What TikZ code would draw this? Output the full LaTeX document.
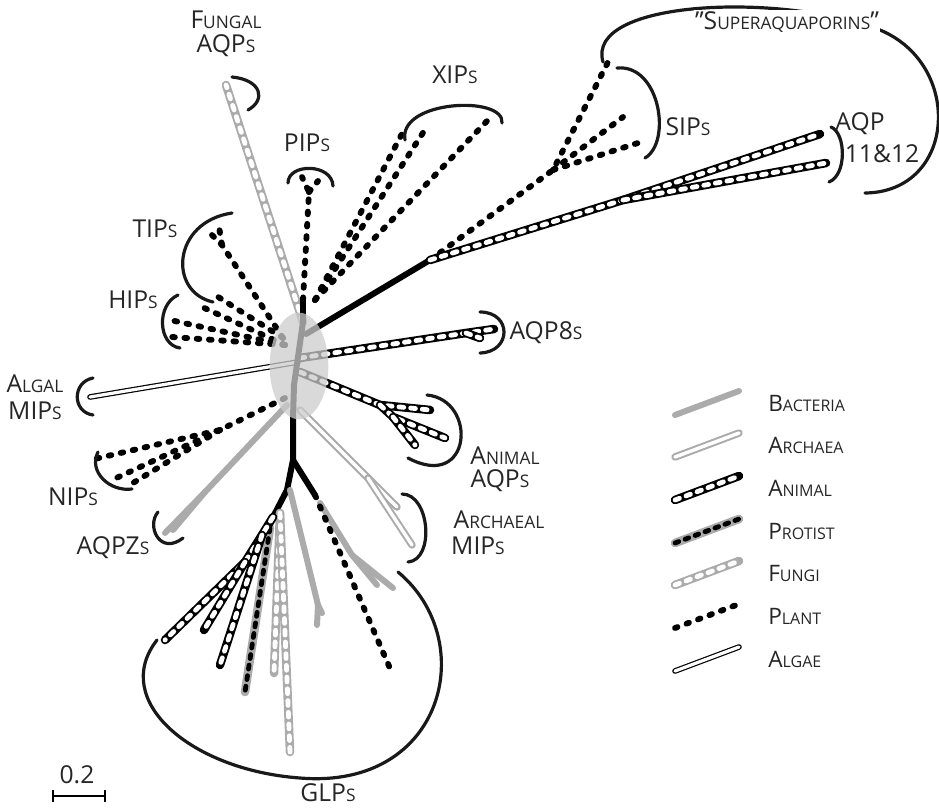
\documentclass[tikz,border=0pt]{standalone}
\usetikzlibrary{shapes.geometric}
\usepackage{fontspec}
\setmainfont{Open Sans}
\newcommand{\smc}[2]{#1{\fontsize{13}{13}\selectfont #2}}
\newcommand{\lsmc}[2]{#1{\fontsize{12}{12}\selectfont #2}}
\begin{document}
\begin{tikzpicture}[x=0.75pt,y=-0.75pt,
  bact/.style={draw=black!33,line width=4.5pt,line cap=round},
  arch/.style={draw=black!33,double=white,line width=1.5pt,double distance=2.6pt,line cap=round},
  anim/.style={draw=black,line width=6.4pt,line cap=round,
     postaction={draw=white,line width=3.6pt,line cap=round,dash pattern=on 3.6pt off 5.2pt}},
  prot/.style={draw=black!33,line width=6.4pt,line cap=round,
     postaction={draw=black,line width=3.6pt,line cap=round,dash pattern=on 3pt off 5pt}},
  fung/.style={draw=black!33,line width=6.4pt,line cap=round,
     postaction={draw=white,line width=3.6pt,line cap=round,dash pattern=on 3.6pt off 5.2pt}},
  plnt/.style={draw=black,line width=4.4pt,line cap=round,dash pattern=on 2pt off 7.2pt},
  alg/.style={draw=black,double=white,line width=0.9pt,double distance=2.4pt,line cap=round},
  solidb/.style={draw=black,line width=4.5pt,line cap=round},
  brk/.style={draw=black!90,line width=2.4pt,line cap=round},
  lab/.style={font=\fontsize{18.5}{20}\selectfont,text=black!85,inner sep=0pt},
  leg/.style={font=\fontsize{17}{18}\selectfont,text=black!85,inner sep=0pt,anchor=west}]
\useasboundingbox (0,0) rectangle (939,808);
% ---------------- core coordinates
\coordinate (top) at (303,322);
\coordinate (m1) at (299,350);
\coordinate (m2) at (294,385);
\coordinate (bot) at (293,418);
\coordinate (g1) at (293,460);
\coordinate (p0) at (303,300);
\coordinate (p1) at (309,192);
\coordinate (sj0) at (306,334);
\coordinate (sj) at (430,260);
\coordinate (sp) at (553,170);
\coordinate (aq) at (623,200);
% ---------------- GLP clade
\coordinate (gA) at (287,490);
\coordinate (gA2) at (273,517);
\coordinate (gB) at (262,535);
\coordinate (gR) at (315,495);
\draw[solidb] (g1) -- (gA) -- (gA2);
\draw[solidb] (g1) -- (gR);
\coordinate (glb0) at (290,490);
\coordinate (glb1) at (318,605);
\coordinate (glb1e) at (322,613);
\coordinate (glb2e) at (317,625);
\draw[bact] (glb0) -- (glb1) -- (glb2e);
\draw[bact] (glb1) -- (glb1e);
\coordinate (glr0) at (320,503);
\coordinate (glr1) at (352,555);
\coordinate (glr2) at (377,585);
\coordinate (glr3) at (393,588);
\draw[bact] (glr0) -- (glr1) -- (glr2);
\draw[bact] (glr1) -- (glr3);
\coordinate (glf0) at (280,513);
\coordinate (glf1e) at (274,673);
\coordinate (glf2e) at (290,752);
\draw[fung] (glf0) -- (glf1e);
\draw[fung] (glf0) -- (glf2e);
\coordinate (glpr) at (270,528);
\coordinate (glpre) at (245,692);
\draw[prot] (glpr) -- (glpre);
\coordinate (gla1) at (165,640);
\coordinate (gla2) at (204,630);
\coordinate (gla3) at (220,665);
\coordinate (gC) at (245,562);
\draw[anim] (gA2) -- (gB) -- (gC) -- (gla1);
\draw[anim] (gC) -- (gla2);
\draw[anim] (gB) -- (gla3);
\coordinate (glp) at (392,673);
\draw[plnt] (gR) -- (glp);
% archaeal
\coordinate (ar0) at (300,410);
\coordinate (ar01) at (368,478);
\coordinate (ar1) at (397,507);
\coordinate (ar2) at (412,545);
\draw[arch] (ar0) -- (ar01) -- (ar1);
\draw[arch] (ar01) -- (ar2);
% AQPZ
\coordinate (zq0) at (287,405);
\coordinate (zq1) at (205,492);
\coordinate (zq2) at (165,533);
\coordinate (zq3) at (173,530);
\draw[bact] (zq0) -- (zq1) -- (zq2);
\draw[bact] (zq1) -- (zq3);
% NIPs
\coordinate (ni0) at (285,398);
\coordinate (ni1) at (220,430);
\coordinate (ni2) at (90,460);
\coordinate (ni3) at (112,480);
\coordinate (ni4) at (128,486);
\draw[plnt] (ni0) -- (ni1) -- (ni2);
\draw[plnt] (ni1) -- (ni3);
\draw[plnt] (ni1) -- (ni4);
% Algal
\coordinate (al0) at (298,362);
\coordinate (al1) at (90,397);
\draw[alg] (al0) -- (al1);
% HIPs / TIPs
\coordinate (hi0) at (285,345);
\coordinate (hi1) at (170,320);
\coordinate (hi2) at (172,337);
\coordinate (hi3) at (200,306);
\draw[plnt] (hi0) -- (hi1);
\draw[plnt] (hi0) -- (hi2);
\draw[plnt] (hi0) -- (hi3);
\coordinate (ti0) at (283,338);
\coordinate (ti1) at (222,245);
\coordinate (ti2) at (210,233);
\coordinate (ti3) at (219,227);
\coordinate (ti4) at (215,295);
\draw[plnt] (ti0) -- (ti1) -- (ti2);
\draw[plnt] (ti1) -- (ti3);
\draw[plnt] (ti0) -- (ti4);
% Fungal AQPs
\coordinate (fu1) at (226,85);
\draw[fung] (top) -- (fu1);
% PIPs
\draw[solidb] (top) -- (p0);
\coordinate (pi1) at (302,177);
\coordinate (pi2) at (312,182);
\coordinate (pi3) at (318,181);
\draw[plnt] (p0) -- (p1) -- (pi1);
\draw[plnt] (p1) -- (pi2);
\draw[plnt] (p1) -- (pi3);
% XIPs
\coordinate (xi0) at (315,300);
\coordinate (xi1) at (405,128);
\coordinate (xi2) at (428,125);
\coordinate (xi3) at (488,120);
\draw[plnt] (xi0) -- (xi1);
\draw[plnt] (xi0) -- (xi2);
\draw[plnt] (xi0) -- (xi3);
% superaquaporins
\draw[solidb] (sj0) -- (sj);
\coordinate (si1) at (608,62);
\coordinate (si2) at (623,117);
\coordinate (si3) at (638,143);
\draw[plnt] (sj) -- (sp) -- (si1);
\draw[plnt] (sp) -- (si2);
\draw[plnt] (sp) -- (si3);
\coordinate (aq1) at (820,134);
\coordinate (aq2) at (826,163);
\draw[anim] (sj) -- (aq) -- (aq1);
\draw[anim] (aq) -- (aq2);
% AQP8
\coordinate (a80) at (300,358);
\coordinate (a81) at (466,333);
\coordinate (a82) at (494,329);
\coordinate (a83) at (480,338);
\draw[anim] (a80) -- (a81) -- (a82);
\draw[anim] (a81) -- (a83);
% Animal AQPs
\coordinate (aa0) at (300,372);
\coordinate (aa1) at (380,405);
\coordinate (aa2) at (430,410);
\coordinate (aa5) at (393,417);
\coordinate (aa3) at (445,438);
\coordinate (aa4) at (415,445);
\draw[anim] (aa0) -- (aa1) -- (aa2);
\draw[anim] (aa1) -- (aa5) -- (aa3);
\draw[anim] (aa5) -- (aa4);
% backbone
\draw[solidb] (top) -- (m1) -- (m2) -- (bot) -- (g1);
% ellipse overlay
\node[draw=none,fill=black!20,opacity=0.75,ellipse,minimum width=44pt,minimum height=80pt,inner sep=0pt] (ell) at (299,366) {};
% ---------------- brackets
\draw[brk] (232,77) .. controls (262,80) and (266,100) .. (248,110);
\draw[brk] (288,183) .. controls (288,163) and (332,163) .. (333,186);
\draw[brk] (405,140) .. controls (398,100) and (505,95) .. (502,123);
\draw[brk] (617,68) .. controls (660,64) and (672,142) .. (645,158);
\draw[brk] (831,127) .. controls (846,133) and (847,175) .. (829,182);
\draw[brk] (603,62) .. controls (585,0) and (780,-8) .. (880,30) .. controls (964,65) and (956,192) .. (865,193);
\draw[brk] (232,213) .. controls (172,222) and (168,292) .. (213,302);
\draw[brk] (178,295) .. controls (156,305) and (158,345) .. (180,348);
\draw[brk] (93,378) .. controls (72,382) and (72,412) .. (93,415);
\draw[brk] (480,312) .. controls (512,312) and (512,352) .. (480,353);
\draw[brk] (427,395) .. controls (478,400) and (472,492) .. (408,458);
\draw[brk] (98,452) .. controls (88,472) and (110,492) .. (132,489);
\draw[brk] (158,512) .. controls (146,526) and (160,556) .. (183,538);
\draw[brk] (402,494) .. controls (430,494) and (435,560) .. (408,562);
\draw[brk] (398,572) .. controls (480,640) and (445,790) .. (300,778) .. controls (190,770) and (110,700) .. (157,640);
% ---------------- labels
\node[lab] (lfun1) at (226,20) {\smc{F}{UNGAL}};
\node[lab] (lfun2) at (226,46) {\smc{AQP}{S}};
\node[lab] (lpip) at (307,143) {\smc{PIP}{S}};
\node[lab] (lxip) at (455,75) {\smc{XIP}{S}};
\node[lab] (lsip) at (688,127) {\smc{SIP}{S}};
\node[lab] (laqp) at (860,124) {AQP};
\node[lab] (l1112) at (882,154) {11\&12};
\node[lab,fill=white,inner sep=1pt] (lsup) at (787,22) {"\smc{S}{UPERAQUAPORINS}"};
\node[lab] (ltip) at (155,229) {\smc{TIP}{S}};
\node[lab] (lhip) at (133,300) {\smc{HIP}{S}};
\node[lab] (lalg1) at (35,384) {\smc{A}{LGAL}};
\node[lab] (lalg2) at (35,411) {\smc{MIP}{S}};
\node[lab] (la8) at (546,333) {\smc{AQP8}{S}};
\node[lab] (lan1) at (505,456) {\smc{A}{NIMAL}};
\node[lab] (lan2) at (500,481) {\smc{AQP}{S}};
\node[lab] (lnip) at (73,497) {\smc{NIP}{S}};
\node[lab] (lzq) at (113,548) {\smc{AQPZ}{S}};
\node[lab] (lar1) at (499,520) {\smc{A}{RCHAEAL}};
\node[lab] (lar2) at (478,546) {\smc{MIP}{S}};
\node[lab] (lglp) at (328,793) {\smc{GLP}{S}};
% scale bar
\node[lab] (lsc) at (77,775) {0.2};
\coordinate (sc1) at (53,796);
\coordinate (sc2) at (105,796);
\draw[black,line width=1.5pt] (sc1) -- (sc2);
\draw[black,line width=1.5pt] ([yshift=4.5pt]sc1) -- ([yshift=-4.5pt]sc1);
\draw[black,line width=1.5pt] ([yshift=4.5pt]sc2) -- ([yshift=-4.5pt]sc2);
% ---------------- legend
\foreach \st/\nm/\yy [count=\i] in {bact/{\lsmc{B}{ACTERIA}}/403, arch/{\lsmc{A}{RCHAEA}}/445, anim/{\lsmc{A}{NIMAL}}/488, prot/{\lsmc{P}{ROTIST}}/531, fung/{\lsmc{F}{UNGI}}/573, plnt/{\lsmc{P}{LANT}}/616, alg/{\lsmc{A}{LGAE}}/659}{
  \coordinate (la\i) at (675,\yy+12);
  \coordinate (lb\i) at (739,\yy-12);
  \draw[\st] (la\i) -- (lb\i);
  \node[leg] (lt\i) at (768,\yy) {\nm};
}
\end{tikzpicture}
\end{document}
